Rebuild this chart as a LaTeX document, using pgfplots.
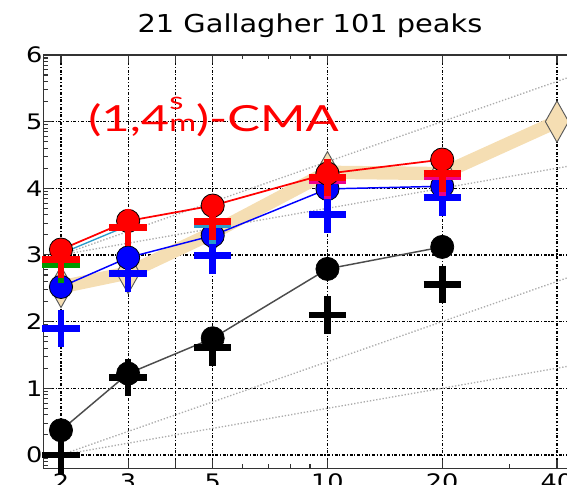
\documentclass[border=0pt]{standalone}
\usepackage{fontspec}
\setmainfont{DejaVu Sans}
\newfontfamily\redfont{Lato}
\usepackage{graphicx}
\usepackage{pgfplots}
\pgfplotsset{compat=1.18}
\definecolor{wheat}{RGB}{245,222,179}
\newcommand{\sx}[1]{\scalebox{1.17}[1]{#1}}
\newcommand{\tk}[1]{\scalebox{1.2}[1]{#1}}
\begin{document}
\begin{tikzpicture}
\path[draw=white, line width=0pt] (-32.66pt,-12.5pt) rectangle (392.6pt,351.2pt);
\begin{scope}
\clip (-32.66pt,-12.5pt) rectangle (392.6pt,351.2pt);
\begin{axis}[
  at={(0pt,0pt)}, anchor=south west,
  scale only axis, width=399.7pt, height=310pt,
  xmode=log, xmin=1.8, xmax=45, ymin=-0.2, ymax=6,
  axis line style={black!80, line width=1.1pt},
  xtick={2,3,4,5,10,20,40},
  xticklabels={\tk{2},\tk{3},,\tk{5},\tk{10},\tk{20},\tk{40}},
  minor xtick={6,7,8,9,30},
  ytick={0,1,2,3,4,5,6},
  yticklabels={\tk{0},\tk{1},\tk{2},\tk{3},\tk{4},\tk{5},\tk{6}},
  minor ytick={-0.155,-0.097,-0.046,
    0.301,0.477,0.602,0.699,0.778,0.845,0.903,0.954,
    1.301,1.477,1.602,1.699,1.778,1.845,1.903,1.954,
    2.301,2.477,2.602,2.699,2.778,2.845,2.903,2.954,
    3.301,3.477,3.602,3.699,3.778,3.845,3.903,3.954,
    4.301,4.477,4.602,4.699,4.778,4.845,4.903,4.954,
    5.301,5.477,5.602,5.699,5.778,5.845,5.903,5.954},
  tick align=inside,
  major tick length=6pt, minor tick length=3pt,
  tick style={black!80, line width=0.8pt},
  grid=major,
  major grid style={black, line width=0.9pt, dash pattern=on 2.2pt off 1.3pt on 0.8pt off 1.3pt},
  ticklabel style={font=\fontsize{16}{16}\selectfont},
  xticklabel style={inner sep=0pt, anchor=north, yshift=-3.7pt},
  yticklabel style={inner sep=0pt, anchor=east, xshift=-0.6pt},
  title={\sx{21 Gallagher 101 peaks}},
  title style={font=\fontsize{18.5}{18.5}\selectfont, at={(0.5,1)}, anchor=base, yshift=10.7pt, inner sep=0pt},
]
% reference scaling lines
\addplot[gray!65, line width=1pt, dash pattern=on 1pt off 1.4pt, forget plot] coordinates {(2,0) (200,2)};
\addplot[gray!65, line width=1pt, dash pattern=on 1pt off 1.4pt, forget plot] coordinates {(2,0) (200,4)};
\addplot[gray!65, line width=1pt, dash pattern=on 1pt off 1.4pt, forget plot] coordinates {(2,3) (200,5)};
\addplot[gray!65, line width=1pt, dash pattern=on 1pt off 1.4pt, forget plot] coordinates {(2,3) (200,7)};
% reference algorithm band
\addplot[wheat, line width=10pt, mark=diamond*, mark size=15.5pt,
  mark options={fill=wheat, draw=black!65, line width=0.7pt, xscale=0.75}]
  coordinates {(2,2.52) (3,2.73) (5,3.33) (10,4.24) (20,4.22) (40,5.0)};
% black
\addplot[black!70, line width=1.1pt, mark=*, mark size=8.7pt, mark options={fill=black, draw=black, line width=0.5pt}]
  coordinates {(2,0.37) (3,1.22) (5,1.75) (10,2.79) (20,3.12)};
\addplot[only marks, mark=+, mark size=14pt, mark options={black, line width=5pt}]
  coordinates {(2,0.0) (3,1.16) (5,1.61) (10,2.1) (20,2.56)};
% blue
\addplot[blue, line width=1.1pt, mark=*, mark size=8.7pt, mark options={fill=blue, draw=black, line width=0.6pt}]
  coordinates {(2,2.52) (3,2.96) (5,3.29) (10,3.99) (20,4.03)};
\addplot[only marks, mark=+, mark size=14pt, mark options={blue, line width=5pt}]
  coordinates {(2,1.9) (3,2.72) (5,2.99) (10,3.61) (20,3.86)};
% cyan / green / magenta (mostly hidden)
\addplot[cyan!80!black, line width=1pt] coordinates {(2,3.02) (3,3.44)};
\addplot[only marks, mark=+, mark size=14pt, mark options={green!60!black, line width=5pt}]
  coordinates {(2,2.86)};
\addplot[only marks, mark=+, mark size=14pt, mark options={cyan!80!black, line width=5pt}]
  coordinates {(5,3.45)};
\addplot[only marks, mark=+, mark size=14pt, mark options={magenta, line width=5pt}]
  coordinates {(10,4.12) (20,4.17)};
% red
\addplot[red, line width=1.3pt, mark=*, mark size=8.7pt, mark options={fill=red, draw=black, line width=0.6pt}]
  coordinates {(2,3.08) (3,3.51) (5,3.74) (10,4.22) (20,4.43)};
\addplot[only marks, mark=+, mark size=14pt, mark options={red, line width=5pt}]
  coordinates {(2,2.93) (3,3.41) (5,3.5) (10,4.16) (20,4.22)};
\node[anchor=base west, inner sep=0pt, text=red, font=\redfont\fontsize{27}{27}\selectfont]
  at (axis cs:2.355,4.845)
  {\scalebox{1.36}[1]{(1,4\rlap{\raisebox{16.5pt}{\fontsize{18}{18}\selectfont s}}{\fontsize{18}{18}\selectfont m})-CMA}};
\end{axis}
\end{scope}
\end{tikzpicture}
\end{document}
